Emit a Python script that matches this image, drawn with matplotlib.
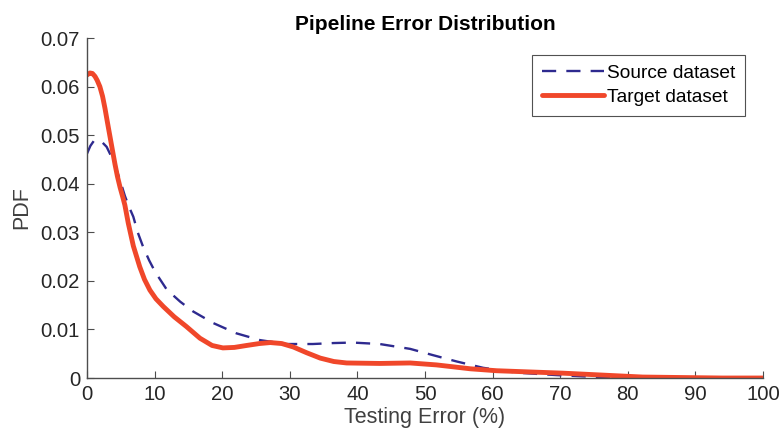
import matplotlib
matplotlib.use("Agg")
import matplotlib.pyplot as plt
from matplotlib.ticker import FixedLocator, FixedFormatter

plt.rcParams['font.family'] = ['Liberation Sans', 'DejaVu Sans']

src_x = [0, 0.5, 1.0, 1.5, 2.2, 2.9, 3.6, 4.4, 5.0, 5.6, 6.2, 6.85, 7.5, 8.3, 9.2, 10.1, 11.8, 13.8,
         15.7, 18.7, 22.1, 25.6, 29.5, 33.4, 36.5, 39.3, 43.3, 47.8, 51.2, 54.7, 58.6, 63.6, 69.5,
         75.4, 80, 85, 90, 95, 100]
src_y = [0.0462, 0.0478, 0.0488, 0.0490, 0.0486, 0.0476, 0.0456, 0.0428, 0.0402, 0.0375, 0.0353, 0.0332,
         0.0300, 0.0270, 0.0242, 0.0218, 0.0182, 0.0157, 0.0137, 0.0113, 0.0092, 0.0078, 0.0070, 0.0070,
         0.0072, 0.0073, 0.0070, 0.0060, 0.0047, 0.0034, 0.0021, 0.0011, 0.0006, 0.0002, 0.0001, 0.0001,
         0.0000, 0.0000, 0.0000]

tgt_x = [0, 0.44, 0.8, 1.18, 1.5, 1.9, 2.3, 2.66, 3.0, 3.4, 3.8, 4.14, 4.5, 4.9, 5.3, 5.6, 6.1, 6.85,
         7.8, 8.5, 9.3, 10.2, 11.3, 12.9, 14.7, 16.7, 18.5, 20.1, 21.8, 23.6, 25.5, 27.1, 28.8, 30.5,
         32.5, 34.5, 36.5, 38.4, 43.3, 47.8, 51.7, 56.7, 60.6, 64.5, 70.4, 76.3, 82.2, 88, 94, 100]
tgt_y = [0.0624, 0.0628, 0.0627, 0.0621, 0.0613, 0.0600, 0.0580, 0.0555, 0.0528, 0.0497, 0.0466, 0.0440,
         0.0415, 0.0392, 0.0372, 0.0356, 0.0319, 0.0272, 0.0229, 0.0203, 0.0181, 0.0163, 0.0147, 0.0126,
         0.0106, 0.0082, 0.0067, 0.0062, 0.0063, 0.0067, 0.0071, 0.0073, 0.0071, 0.0064, 0.0052, 0.0041,
         0.0034, 0.0031, 0.0030, 0.0031, 0.0027, 0.0019, 0.0015, 0.0013, 0.0010, 0.0006, 0.0002, 0.0001,
         0.0000, 0.0000]

xticks = [0, 10, 20, 30, 40, 50, 60, 70, 80, 90, 100]
yticks = [0, 0.01, 0.02, 0.03, 0.04, 0.05, 0.06, 0.07]
ytick_labels = ['0', '0.01', '0.02', '0.03', '0.04', '0.05', '0.06', '0.07']

fig = plt.figure(figsize=(7.79, 4.44), dpi=100)
ax = fig.add_axes([0.1117, 0.1486, 0.8678, 0.7658])

ax.plot(src_x, src_y, linestyle=(0, (6, 4.3)), color='#2e2a8f', linewidth=1.7, label='Source dataset')
ax.plot(tgt_x, tgt_y, linestyle='-', color='#f0472a', linewidth=3.5, label='Target dataset',
        solid_capstyle='round', solid_joinstyle='round')

ax.set_xlim(0, 100)
ax.set_ylim(0, 0.07)
ax.xaxis.set_major_locator(FixedLocator(xticks))
ax.yaxis.set_major_locator(FixedLocator(yticks))
ax.yaxis.set_major_formatter(FixedFormatter(ytick_labels))

for s in ['top', 'right']:
    ax.spines[s].set_visible(False)
for s in ['left', 'bottom']:
    ax.spines[s].set_color('#4d4d4d')
    ax.spines[s].set_linewidth(1.0)
ax.tick_params(direction='in', length=5, color='#4d4d4d', labelsize=14.6, labelcolor='#262626', pad=5)

ax.set_xlabel('Testing Error (%)', fontsize=15.5, color='#404040', labelpad=2)
ax.set_ylabel('PDF', fontsize=15.5, color='#404040', labelpad=6)
ax.set_title('Pipeline Error Distribution', fontsize=15, fontweight='bold', color='#000000', pad=6)

leg = ax.legend(loc='upper right', bbox_to_anchor=(0.973, 0.95), fontsize=13.8, frameon=True,
                fancybox=False, edgecolor='#262626', handlelength=3.25, borderpad=0.5,
                labelspacing=0.35, handletextpad=0.15, borderaxespad=0.0)
leg.get_frame().set_linewidth(0.8)

fig.savefig('out.png', dpi=100)
